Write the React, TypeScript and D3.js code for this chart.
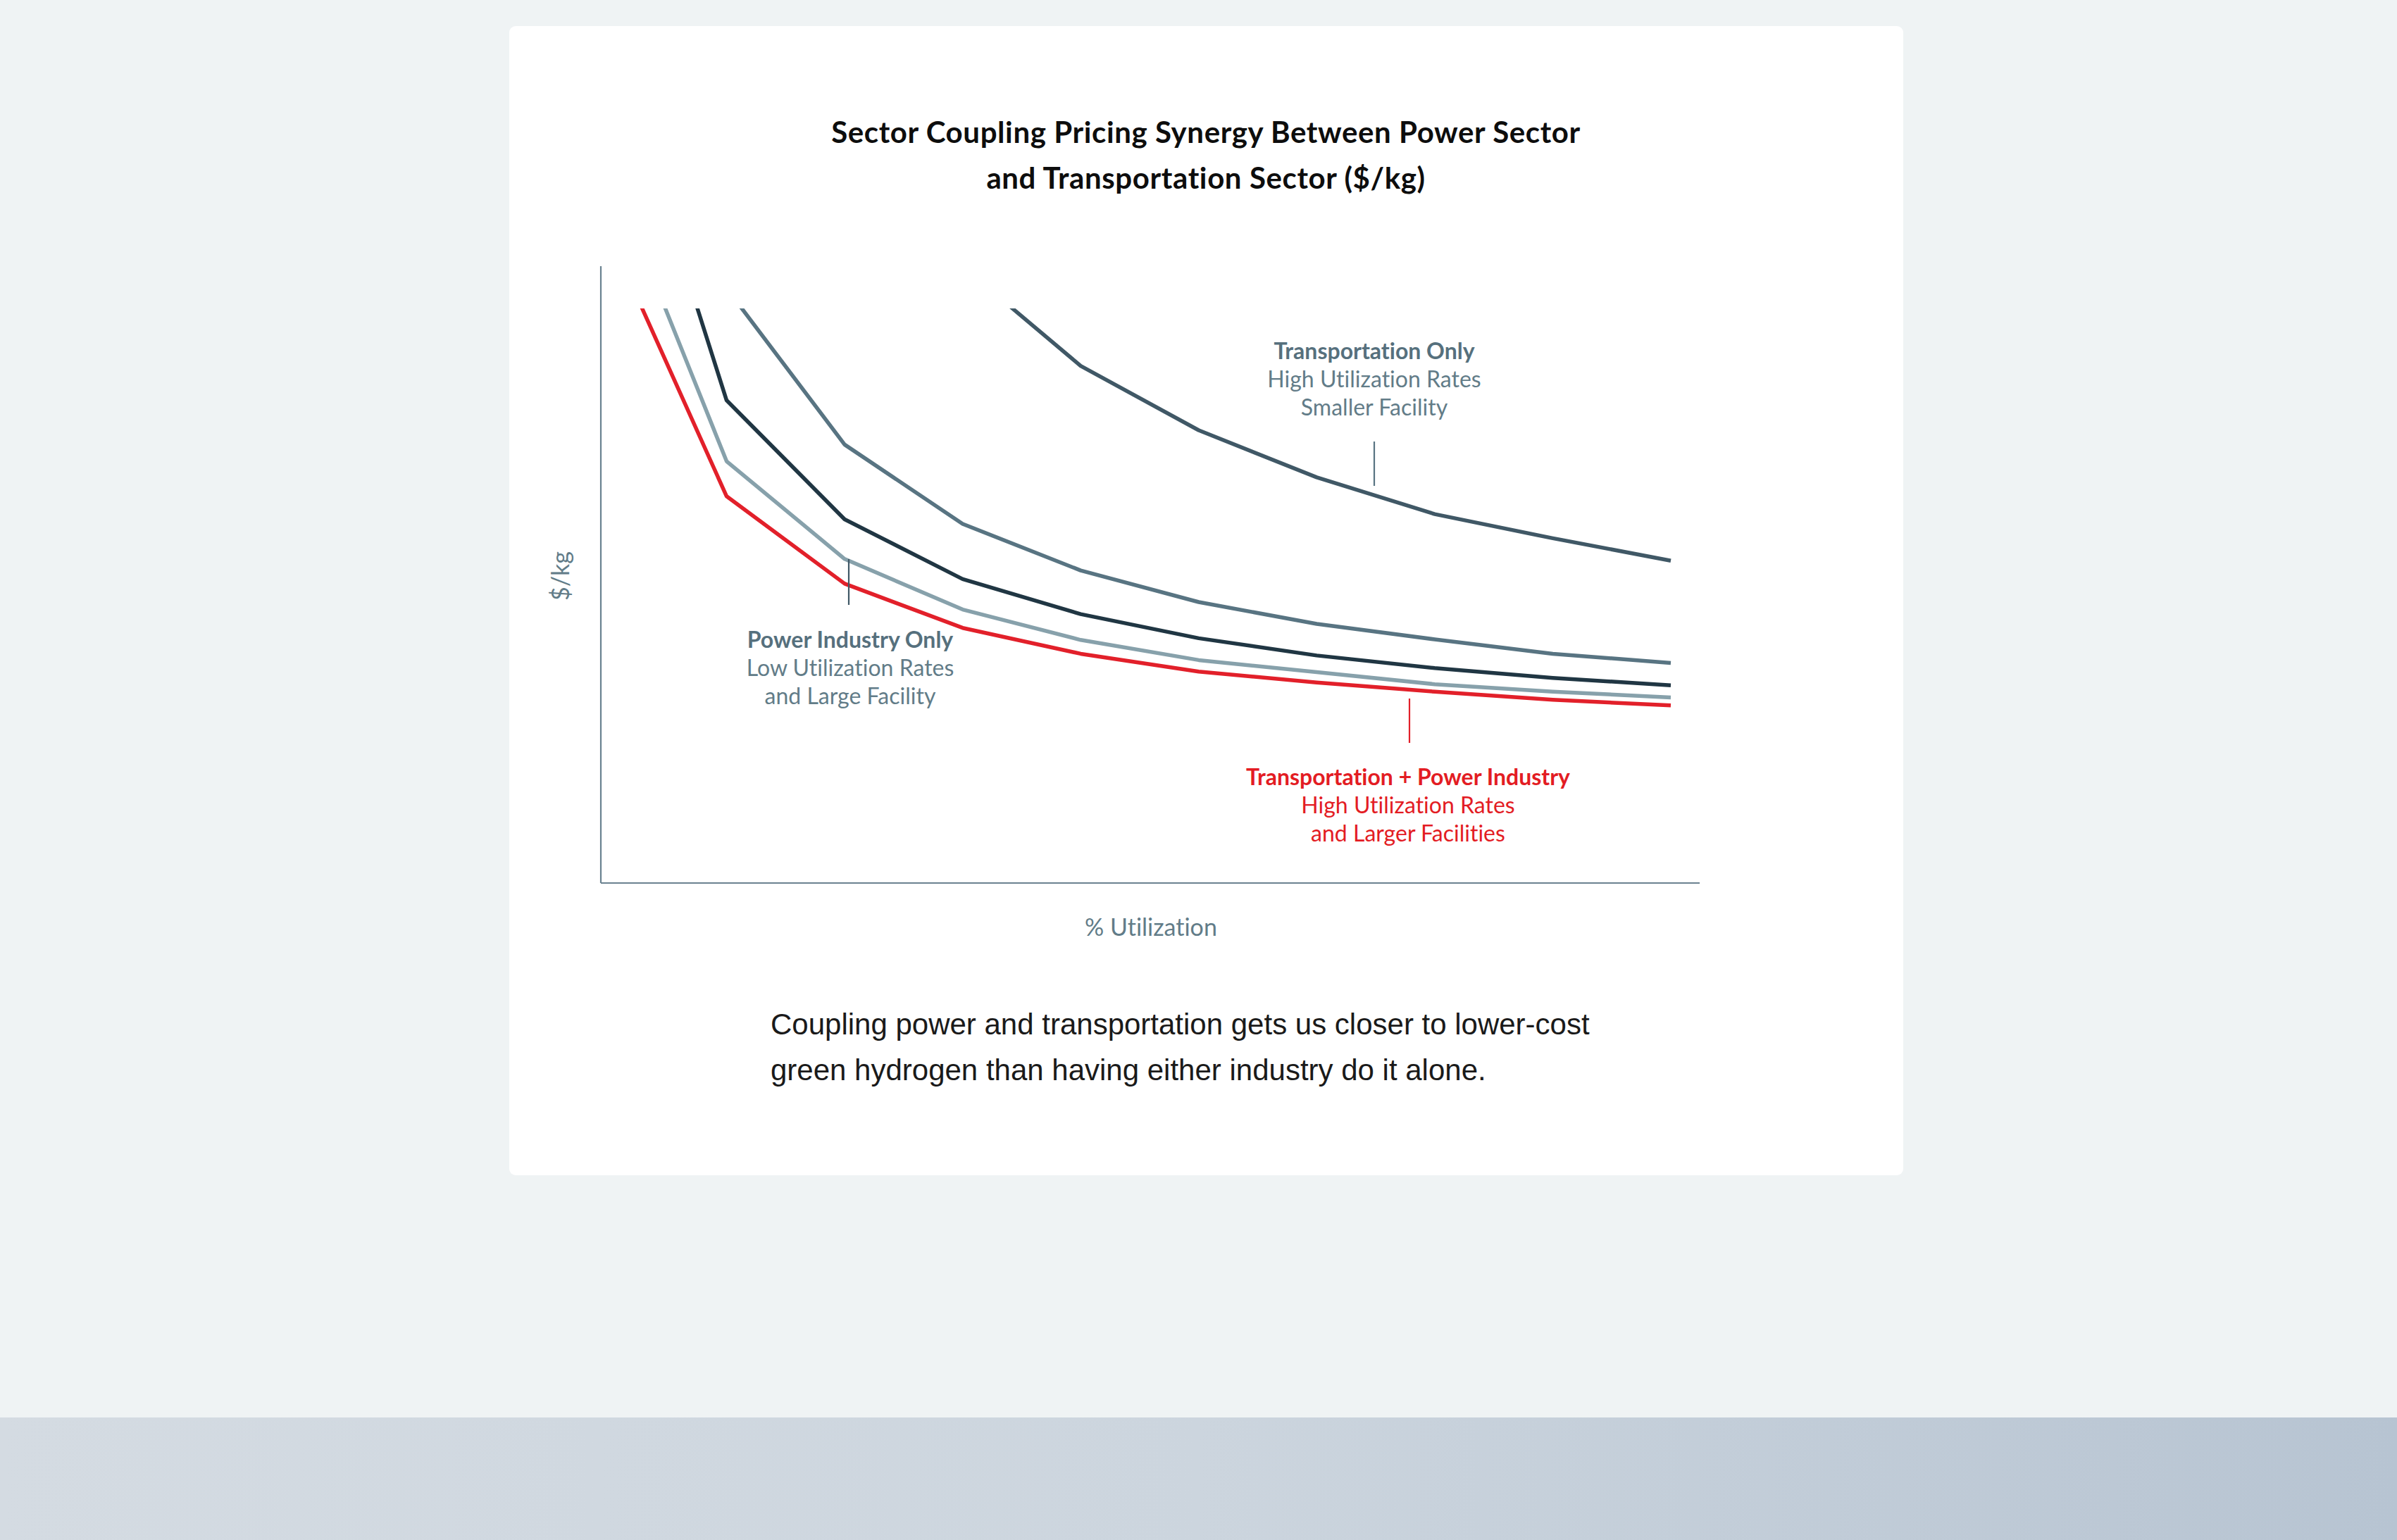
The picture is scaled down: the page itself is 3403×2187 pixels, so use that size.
import React from 'react';
import * as d3 from 'd3';

// Utilization steps along the x axis (no tick labels in the original)
const utilization = [10, 20, 30, 40, 50, 60, 70, 80, 90, 100];

// $/kg estimates (arbitrary units, plot is clipped at 10)
const combinedCost = [11.3, 6.73, 5.21, 4.44, 3.99, 3.68, 3.49, 3.33, 3.19, 3.09];
const powerLargeCost = [12.46, 7.34, 5.64, 4.76, 4.23, 3.88, 3.67, 3.46, 3.33, 3.23];
const powerMidCost = [14.87, 8.4, 6.33, 5.29, 4.68, 4.26, 3.96, 3.74, 3.57, 3.44];
const powerSmallCost = [16.0, 10.35, 7.63, 6.25, 5.44, 4.89, 4.51, 4.24, 3.99, 3.83];
const transportCost = [22.0, 16.5, 13.0, 10.73, 9.0, 7.88, 7.06, 6.42, 6.0, 5.61];

const SERIES = [
  { key: 'transport', values: transportCost, color: '#405866' },
  { key: 'powerSmall', values: powerSmallCost, color: '#587482' },
  { key: 'powerMid', values: powerMidCost, color: '#203643' },
  { key: 'powerLarge', values: powerLargeCost, color: '#87a1ab' },
  { key: 'combined', values: combinedCost, color: '#e2202a' },
];

const titleLines = [
  'Sector Coupling Pricing Synergy Between Power Sector',
  'and Transportation Sector ($/kg)',
];
const transportLabel = ['Transportation Only', 'High Utilization Rates', 'Smaller Facility'];
const powerLabel = ['Power Industry Only', 'Low Utilization Rates', 'and Large Facility'];
const combinedLabel = ['Transportation + Power Industry', 'High Utilization Rates', 'and Larger Facilities'];
const captionLines = [
  'Coupling power and transportation gets us closer to lower-cost',
  'green hydrogen than having either industry do it alone.',
];

const W = 3403;
const H = 2187;
const FONT = 'Lato, "Open Sans", sans-serif';
const NOLIG: React.CSSProperties = { fontVariantLigatures: 'none' };

// plot frame
const axisX = 853;
const axisTop = 378;
const axisY = 1254;
const axisRight = 2413;
const clipTop = 438;

const xScale = d3.scaleLinear().domain([10, 100]).range([864, 2372]);
const yScale = d3.scaleLinear().domain([0, 10]).range([axisY, clipTop]);

const line = d3
  .line<number>()
  .x((_, i) => xScale(utilization[i]))
  .y(d => yScale(d));

const Label: React.FC<{ lines: string[]; x: number; y: number; bold: string; color: string }> = ({
  lines,
  x,
  y,
  bold,
  color,
}) => (
  <text x={x} textAnchor="middle" fontFamily={FONT} fontSize={32} style={NOLIG}>
    {lines.map((t, i) => (
      <tspan key={i} x={x} y={y + i * 40} fill={i === 0 ? bold : color} fontWeight={i === 0 ? 700 : 400}>
        {t}
      </tspan>
    ))}
  </text>
);

const App: React.FC = () => {
  return (
    <div style={{ position: 'absolute', left: 0, top: 0, width: W, height: H }}>
      <svg width={W} height={H} viewBox={`0 0 ${W} ${H}`} style={{ display: 'block' }}>
        <defs>
          <linearGradient id="band" x1="0" x2="1" y1="0" y2="0">
            <stop offset="0" stopColor="#d4dbe2" />
            <stop offset="0.5" stopColor="#ccd5de" />
            <stop offset="1" stopColor="#b7c4d2" />
          </linearGradient>
          <clipPath id="plotClip">
            <rect x={axisX} y={clipTop} width={axisRight - axisX} height={axisY - clipTop} />
          </clipPath>
        </defs>

        {/* page background */}
        <rect x={0} y={0} width={W} height={H} fill="#eff3f4" />
        <rect x={0} y={2013} width={W} height={H - 2013} fill="url(#band)" />

        {/* card */}
        <rect x={723} y={37} width={1979} height={1632} rx={9} fill="#ffffff" />

        {/* title */}
        <text
          textAnchor="middle"
          fontFamily={FONT}
          fontWeight={700}
          fontSize={42}
          letterSpacing={0.6}
          fill="#0d0d0d"
          style={NOLIG}
        >
          {titleLines.map((t, i) => (
            <tspan key={i} x={1712} y={203 + i * 65}>
              {t}
            </tspan>
          ))}
        </text>

        {/* axes */}
        <line x1={axisX} x2={axisX} y1={axisTop} y2={axisY} stroke="#6a8290" strokeWidth={2.2} />
        <line x1={axisX} x2={axisRight} y1={axisY} y2={axisY} stroke="#6a8290" strokeWidth={2.2} />
        <text
          transform="translate(808,818) rotate(-90)"
          textAnchor="middle"
          fontFamily={FONT}
          fontSize={34}
          fill="#627c88"
        >
          $/kg
        </text>
        <text x={1634} y={1329} textAnchor="middle" fontFamily={FONT} fontSize={34} fill="#627c88" style={NOLIG}>
          % Utilization
        </text>

        {/* curves */}
        <g clipPath="url(#plotClip)">
          {SERIES.map(s => (
            <path
              key={s.key}
              d={line(s.values) || ''}
              fill="none"
              stroke={s.color}
              strokeWidth={5.5}
              strokeLinejoin="round"
            />
          ))}
        </g>

        {/* leader lines */}
        <line x1={1951} x2={1951} y1={627} y2={690} stroke="#587482" strokeWidth={2.2} />
        <line x1={1205} x2={1205} y1={794} y2={859} stroke="#405866" strokeWidth={2.2} />
        <line x1={2001} x2={2001} y1={992} y2={1055} stroke="#e2202a" strokeWidth={2.2} />

        {/* annotations */}
        <Label lines={transportLabel} x={1951} y={510} bold="#56707d" color="#627c88" />
        <Label lines={powerLabel} x={1207} y={920} bold="#56707d" color="#627c88" />
        <Label lines={combinedLabel} x={1999} y={1115} bold="#e31c23" color="#e31c23" />

        {/* caption */}
        <text fontFamily='"Liberation Sans", Arial, sans-serif' fontSize={42} fill="#1a1a1a">
          {captionLines.map((t, i) => (
            <tspan key={i} x={1094} y={1469 + i * 65}>
              {t}
            </tspan>
          ))}
        </text>
      </svg>
    </div>
  );
};

export default App;
